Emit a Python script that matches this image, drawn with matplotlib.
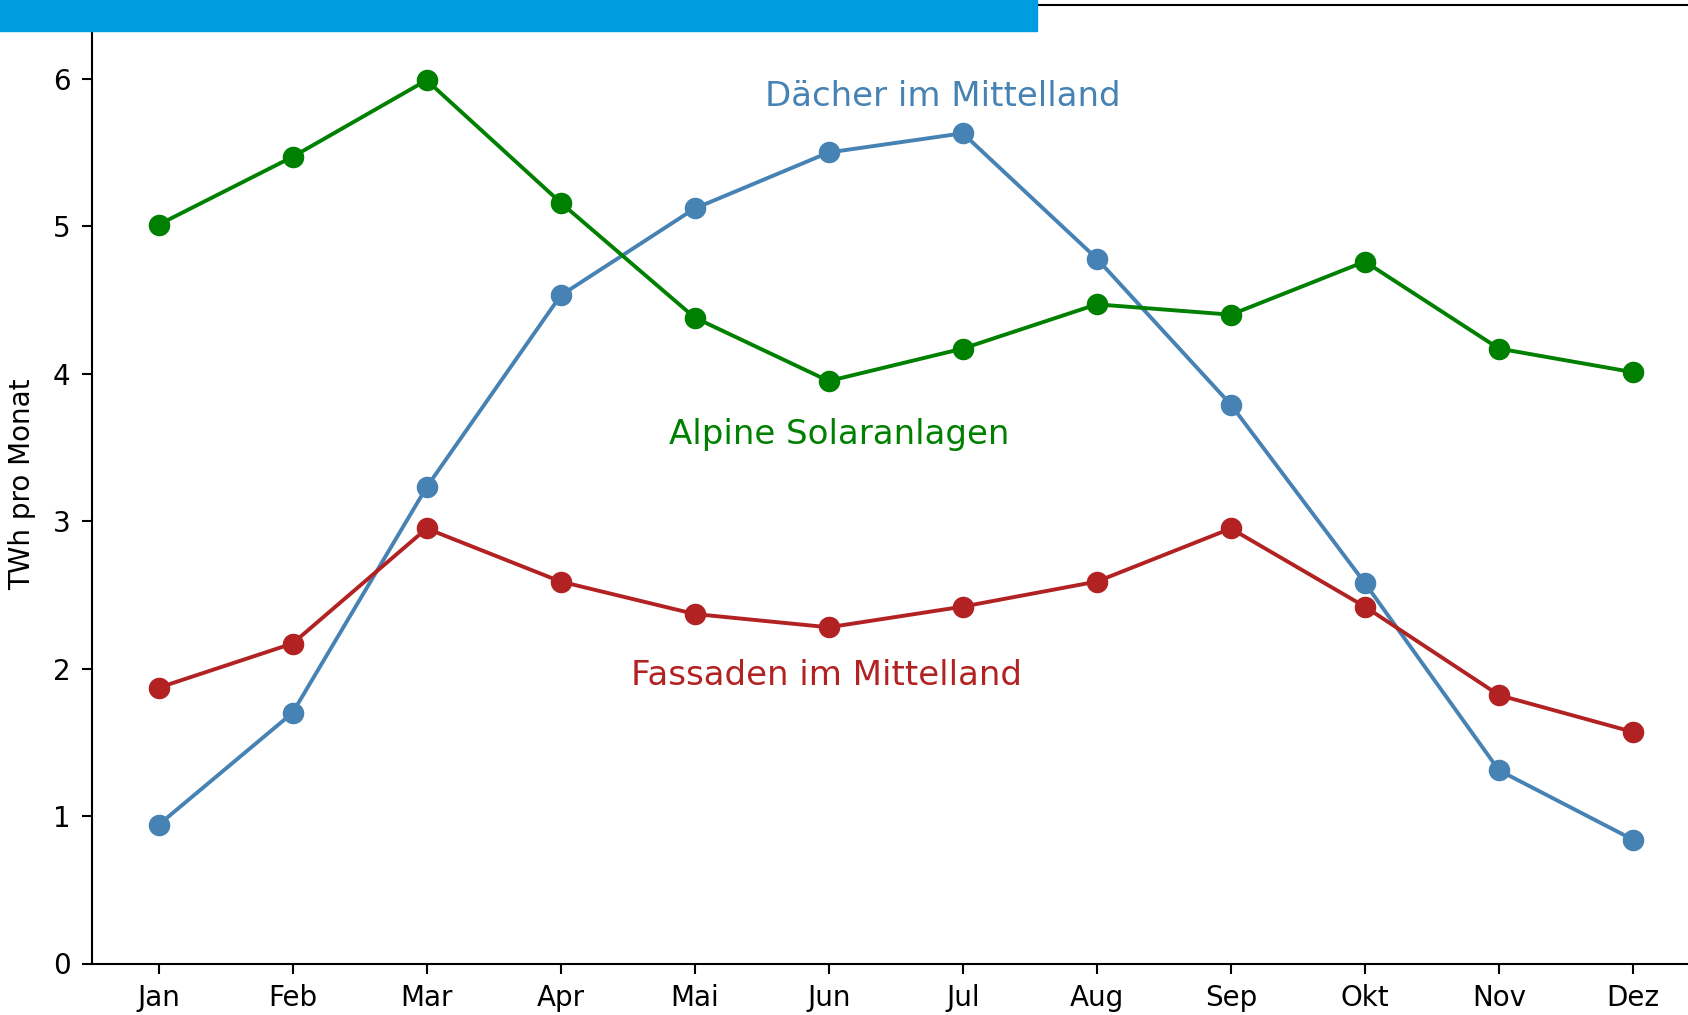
import matplotlib
matplotlib.use("Agg")
import matplotlib.pyplot as plt
from matplotlib.patches import Rectangle

months = ["Jan", "Feb", "Mar", "Apr", "Mai", "Jun", "Jul", "Aug", "Sep", "Okt", "Nov", "Dez"]
daecher = [0.94, 1.70, 3.23, 4.53, 5.12, 5.50, 5.63, 4.78, 3.79, 2.58, 1.31, 0.84]
alpine = [5.01, 5.47, 5.99, 5.16, 4.38, 3.95, 4.17, 4.47, 4.40, 4.76, 4.17, 4.01]
fassaden = [1.87, 2.17, 2.95, 2.59, 2.37, 2.28, 2.42, 2.59, 2.95, 2.42, 1.82, 1.57]

fig = plt.figure(figsize=(16.88, 10.15), dpi=100)
# axes runs a bit past the right edge, like the cropped original
ax = fig.add_axes([91.5 / 1688, 1 - 963.5 / 1015, (1700 - 91.5) / 1688, (963.5 - 5) / 1015])

x = range(len(months))
ax.plot(x, daecher, color="steelblue", lw=2.8, marker="o", ms=14.5)
ax.plot(x, alpine, color="green", lw=2.8, marker="o", ms=14.5)
ax.plot(x, fassaden, color="firebrick", lw=2.8, marker="o", ms=14.5)

ax.text(5.85, 5.88, "Dächer im Mittelland", color="steelblue", fontsize=24.5, ha="center", va="center")
ax.text(5.08, 3.59, "Alpine Solaranlagen", color="green", fontsize=24.5, ha="center", va="center")
ax.text(4.98, 1.95, "Fassaden im Mittelland", color="firebrick", fontsize=24.5, ha="center", va="center")

ax.set_xlim(-0.5, 11.5)
ax.set_ylim(0, 6.5)
ax.set_xticks(list(x))
ax.set_xticklabels(months)
ax.set_yticks(range(7))
ax.tick_params(labelsize=20, width=1.5, length=7)
ax.tick_params(axis="x", pad=8)
ax.tick_params(axis="y", pad=8)
ax.set_ylabel("TWh pro Monat", fontsize=20)
ax.yaxis.set_label_coords(-0.0345, 0.5)
for s in ax.spines.values():
    s.set_linewidth(1.5)

# blue header bar at the top left
fig.patches.append(Rectangle((0, 1 - 31 / 1015), 1037 / 1688, 31 / 1015,
                             transform=fig.transFigure, color="#009EE0", zorder=10))

fig.savefig("out.png", dpi=100)
